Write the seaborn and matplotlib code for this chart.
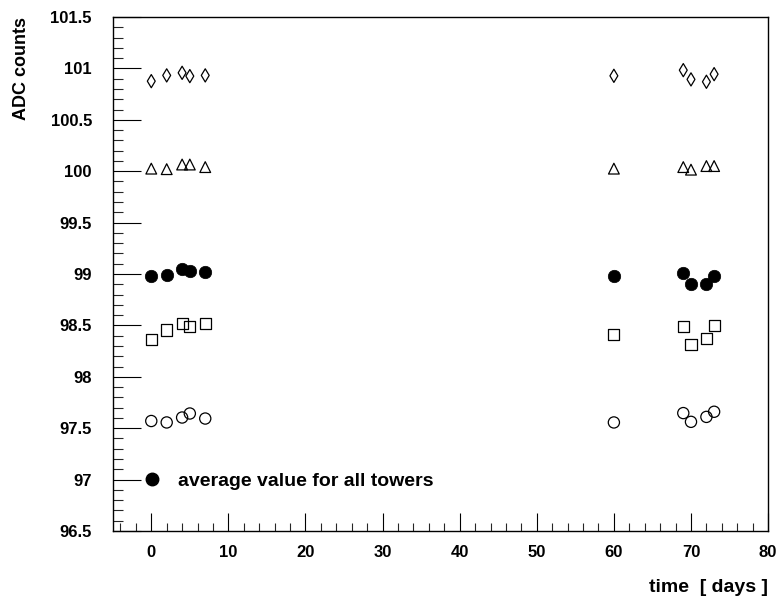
import matplotlib
matplotlib.use("Agg")
import matplotlib.pyplot as plt
import seaborn as sns
import pandas as pd
from matplotlib.ticker import MultipleLocator
from matplotlib.lines import Line2D

days = [0, 2, 4, 5, 7, 60, 69, 70, 72, 73]
diamond_vals = [100.876, 100.932, 100.957, 100.925, 100.932, 100.928, 100.983, 100.893, 100.870, 100.944]
triangle_vals = [100.025, 100.020, 100.065, 100.065, 100.040, 100.025, 100.040, 100.015, 100.050, 100.050]
average_vals = [98.976, 98.990, 99.044, 99.027, 99.024, 98.985, 99.010, 98.900, 98.900, 98.985]
square_vals = [98.360, 98.456, 98.520, 98.490, 98.520, 98.410, 98.490, 98.313, 98.370, 98.498]
circle_vals = [97.570, 97.556, 97.604, 97.643, 97.594, 97.556, 97.647, 97.562, 97.610, 97.660]

legend_label = "average value for all towers"
x_label = "time  [ days ]"
y_label = "ADC counts"

sns.set_theme(style="ticks")
plt.rcParams['font.family'] = ['Liberation Sans', 'DejaVu Sans']
plt.rcParams['font.weight'] = 'bold'
plt.rcParams['text.color'] = 'black'
plt.rcParams['axes.labelcolor'] = 'black'

fig = plt.figure(figsize=(7.79, 6.03), dpi=100)
ax = fig.add_axes([0.1447, 0.1194, 0.8413, 0.8524])

open_series = [
    (diamond_vals, 'd', 45),
    (triangle_vals, '^', 60),
    (square_vals, 's', 65),
    (circle_vals, 'o', 65),
]
for vals, m, s in open_series:
    df = pd.DataFrame({"day": days, "adc": vals})
    sns.scatterplot(data=df, x="day", y="adc", marker=m, s=s, ax=ax,
                    facecolor='none', edgecolor='black', linewidth=0.9, zorder=3)

df_avg = pd.DataFrame({"day": days, "adc": average_vals})
sns.scatterplot(data=df_avg, x="day", y="adc", marker='o', s=80, ax=ax,
                color='black', edgecolor='black', linewidth=0.5, zorder=4)

ax.set_xlim(-5, 80)
ax.set_ylim(96.5, 101.5)
ax.xaxis.set_major_locator(MultipleLocator(10))
ax.xaxis.set_minor_locator(MultipleLocator(2))
ax.yaxis.set_major_locator(MultipleLocator(0.5))
ax.yaxis.set_minor_locator(MultipleLocator(0.1))
ax.yaxis.set_major_formatter(plt.FuncFormatter(lambda v, p: f"{v:g}"))

for sp in ax.spines.values():
    sp.set_visible(True)
    sp.set_color('black')
    sp.set_linewidth(1.0)

ax.tick_params(axis='x', which='major', direction='in', length=13, width=0.8, pad=10,
               labelsize=12, colors='black', top=False)
ax.tick_params(axis='x', which='minor', direction='in', length=6, width=0.8, top=False)
ax.tick_params(axis='y', which='major', direction='in', length=20, width=0.8, pad=15,
               labelsize=12, colors='black', right=False)
ax.tick_params(axis='y', which='minor', direction='in', length=7, width=0.8, right=False)
for lab in ax.get_xticklabels() + ax.get_yticklabels():
    lab.set_fontweight('bold')
    lab.set_color('black')

ax.set_xlabel("")
ax.set_ylabel("")
fig.text(0.986, 0.012, x_label, ha='right', va='bottom', fontsize=14, fontweight='bold', color='black')
fig.text(0.028, 0.972, y_label, ha='center', va='top', rotation=90, fontsize=13, fontweight='bold', color='black')

handle = Line2D([], [], marker='o', color='black', linestyle='none', markersize=9)
leg = ax.legend([handle], [legend_label], loc='center left', bbox_to_anchor=(0.045, 0.097),
                frameon=False, handletextpad=0.84, handlelength=1.0, borderpad=0, borderaxespad=0,
                prop={'weight': 'bold', 'size': 14})
for t in leg.get_texts():
    t.set_color('black')

fig.savefig("out.png", dpi=100)
